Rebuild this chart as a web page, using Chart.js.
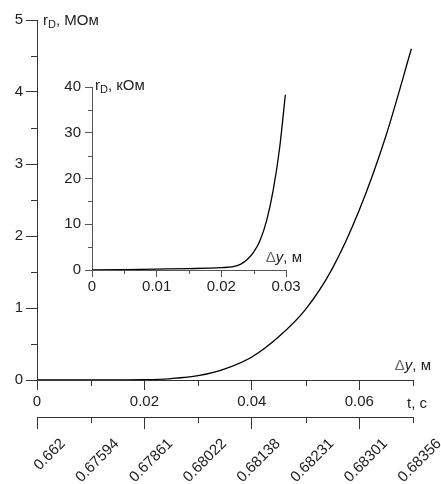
<!DOCTYPE html>
<html>
<head>
<meta charset="utf-8">
<script src="https://cdn.jsdelivr.net/npm/chart.js@4.4.1/dist/chart.umd.min.js"></script>
<style>
html, body { margin: 0; padding: 0; background: #fff; }
#wrap { position: relative; width: 441px; height: 484px; }
#main { position: absolute; left: 0; top: 0; }
#inset { position: absolute; left: 50px; top: 66px; }
</style>
</head>
<body>
<div id="wrap">
  <canvas id="main" width="441" height="484"></canvas>
  <canvas id="inset" width="260" height="230"></canvas>
</div>
<script>
// main curve: r_D (MOhm) against Δy (m)
const dyMain = [0, 0.01, 0.02, 0.025, 0.03, 0.035, 0.04, 0.045, 0.05, 0.055, 0.06, 0.065, 0.0697];
const rMain  = [0, 0.001, 0.005, 0.02, 0.06, 0.155, 0.32, 0.6, 0.98, 1.55, 2.36, 3.4, 4.6];

// inset curve: r_D (kOhm) against Δy (m)
const dyInset = [0, 0.005, 0.01, 0.015, 0.02, 0.021, 0.022, 0.023, 0.024, 0.025, 0.026, 0.027, 0.028, 0.029, 0.0299];
const rInset  = [0, 0.1, 0.2, 0.3, 0.5, 0.6, 0.8, 1.3, 2.3, 3.9, 6.5, 10.8, 17.3, 26.5, 38.3];

// ticks
const mainXTicks  = [0, 0.01, 0.02, 0.03, 0.04, 0.05, 0.06, 0.07];
const mainYTicks  = [0, 0.5, 1, 1.5, 2, 2.5, 3, 3.5, 4, 4.5, 5];
const tLabels     = ['0.662', '0.67594', '0.67861', '0.68022', '0.68138', '0.68231', '0.68301', '0.68356'];
const insetXTicks = [0, 0.005, 0.01, 0.015, 0.02, 0.025, 0.03];
const insetYTicks = [0, 5, 10, 15, 20, 25, 30, 35, 40];

const axisColor = '#333';
const insetAxisColor = '#555';
const textColor = '#222';

Chart.defaults.font.family = '"Liberation Sans", Arial, sans-serif';
Chart.defaults.font.size = 15;
Chart.defaults.color = textColor;

const toPoints = (xs, ys) => xs.map((x, i) => ({ x: x, y: ys[i] }));
const fmt = v => (v === 0 ? '0' : String(+v.toFixed(3)));

// draws text made of pieces (subscripts, italics)
function drawParts(ctx, parts, x, y, align) {
  const size = Chart.defaults.font.size;
  const fam = Chart.defaults.font.family;
  const fontOf = p => (p.italic ? 'italic ' : '') + (p.sub ? Math.round(size * 0.75) : size) + 'px ' + fam;
  let total = 0;
  parts.forEach(p => { ctx.font = fontOf(p); total += ctx.measureText(p.t).width; });
  let cx = align === 'right' ? x - total : x;
  ctx.textBaseline = 'alphabetic';
  ctx.textAlign = 'left';
  parts.forEach(p => {
    ctx.font = fontOf(p);
    ctx.fillStyle = p.color || textColor;
    ctx.fillText(p.t, cx, y + (p.sub ? 3 : 0));
    cx += ctx.measureText(p.t).width;
  });
}

// short ticks in between the labelled ones, plus the axis titles
const axisExtras = {
  id: 'axisExtras',
  afterDraw(chart, args, opts) {
    const ctx = chart.ctx;
    ctx.save();
    (opts.minor || []).forEach(m => {
      const s = chart.scales[m.scale];
      ctx.strokeStyle = m.color;
      ctx.lineWidth = 1;
      s.ticks.forEach((t, i) => {
        if (i % 2 === 0) return;
        const p = Math.round(s.getPixelForValue(t.value)) + 0.5;
        ctx.beginPath();
        if (s.isHorizontal()) {
          ctx.moveTo(p, s.top);
          ctx.lineTo(p, s.top + m.len);
        } else {
          ctx.moveTo(s.right, p);
          ctx.lineTo(s.right - m.len, p);
        }
        ctx.stroke();
      });
    });
    (opts.titles || []).forEach(t => {
      const s = chart.scales[t.scale];
      drawParts(ctx, t.parts, s.right + t.dx, s.top + t.dy, t.align);
    });
    ctx.restore();
  }
};

const rD = unit => [{ t: 'r' }, { t: 'D', sub: true }, { t: ', ' + unit }];
const dyTitle = [{ t: 'Δ', color: '#666' }, { t: 'y', italic: true }, { t: ', м' }];

function tickGrid(len, color) {
  return {
    drawOnChartArea: false,
    tickLength: len,
    tickColor: c => (c.index % 2 ? 'transparent' : color)
  };
}

new Chart(document.getElementById('main'), {
  type: 'line',
  data: {
    datasets: [{
      data: toPoints(dyMain, rMain),
      borderColor: '#000',
      borderWidth: 1.3,
      pointRadius: 0,
      cubicInterpolationMode: 'monotone',
      xAxisID: 'x',
      yAxisID: 'y'
    }]
  },
  options: {
    responsive: false,
    animation: false,
    layout: { padding: { top: 20, right: 28, left: 0, bottom: 0 } },
    scales: {
      x: {
        type: 'linear', position: 'bottom', min: 0, max: 0.07,
        afterBuildTicks: s => { s.ticks = mainXTicks.map(v => ({ value: v })); },
        afterFit: s => { s.height = 37; },
        grid: tickGrid(10, axisColor),
        border: { color: axisColor },
        ticks: { padding: 3, autoSkip: false, maxRotation: 0, callback: (v, i) => (i % 2 ? '' : fmt(v)) }
      },
      x2: {
        type: 'linear', position: 'bottom', min: 0, max: 0.07,
        afterBuildTicks: s => { s.ticks = mainXTicks.map(v => ({ value: v })); },
        afterFit: s => { s.height = 67; s.paddingLeft = 0; s.paddingRight = 0; },
        grid: tickGrid(12, axisColor),
        border: { color: axisColor },
        ticks: {
          padding: 6, autoSkip: false, minRotation: 45, maxRotation: 45, labelOffset: 26,
          callback: (v, i) => tLabels[i]
        }
      },
      y: {
        type: 'linear', min: 0, max: 5,
        afterBuildTicks: s => { s.ticks = mainYTicks.map(v => ({ value: v })); },
        afterFit: s => { s.width = 37; },
        grid: tickGrid(11, axisColor),
        border: { color: axisColor },
        ticks: { padding: 3, autoSkip: false, callback: (v, i) => (i % 2 ? '' : fmt(v)) }
      }
    },
    plugins: {
      legend: { display: false },
      tooltip: { enabled: false },
      axisExtras: {
        minor: [
          { scale: 'x', len: 6, color: axisColor },
          { scale: 'x2', len: 6, color: axisColor },
          { scale: 'y', len: 6, color: axisColor }
        ],
        titles: [
          { scale: 'y', parts: rD('МОм'), dx: 6, dy: 5, align: 'left' },
          { scale: 'x', parts: dyTitle, dx: 18, dy: -10, align: 'right' },
          { scale: 'x2', parts: [{ t: 't, c' }], dx: 14, dy: -9, align: 'right' }
        ]
      }
    }
  },
  plugins: [axisExtras]
});

new Chart(document.getElementById('inset'), {
  type: 'line',
  data: {
    datasets: [{
      data: toPoints(dyInset, rInset),
      borderColor: '#000',
      borderWidth: 1.3,
      pointRadius: 0,
      cubicInterpolationMode: 'monotone'
    }]
  },
  options: {
    responsive: false,
    animation: false,
    layout: { padding: { top: 21, right: 24, left: 0, bottom: 0 } },
    scales: {
      x: {
        type: 'linear', min: 0, max: 0.03,
        afterBuildTicks: s => { s.ticks = insetXTicks.map(v => ({ value: v })); },
        afterFit: s => { s.height = 26; },
        grid: tickGrid(7, insetAxisColor),
        border: { color: insetAxisColor },
        ticks: { padding: 1, autoSkip: false, maxRotation: 0, callback: (v, i) => (i % 2 ? '' : fmt(v)) }
      },
      y: {
        type: 'linear', min: 0, max: 40,
        afterBuildTicks: s => { s.ticks = insetYTicks.map(v => ({ value: v })); },
        afterFit: s => { s.width = 42; },
        grid: tickGrid(7, insetAxisColor),
        border: { color: insetAxisColor },
        ticks: { padding: 4, autoSkip: false, callback: (v, i) => (i % 2 ? '' : fmt(v)) }
      }
    },
    plugins: {
      legend: { display: false },
      tooltip: { enabled: false },
      axisExtras: {
        minor: [
          { scale: 'x', len: 4, color: insetAxisColor },
          { scale: 'y', len: 4, color: insetAxisColor }
        ],
        titles: [
          { scale: 'y', parts: rD('кОм'), dx: 3, dy: 3, align: 'left' },
          { scale: 'x', parts: dyTitle, dx: 16, dy: -8, align: 'right' }
        ]
      }
    }
  },
  plugins: [axisExtras]
});
</script>
</body>
</html>
